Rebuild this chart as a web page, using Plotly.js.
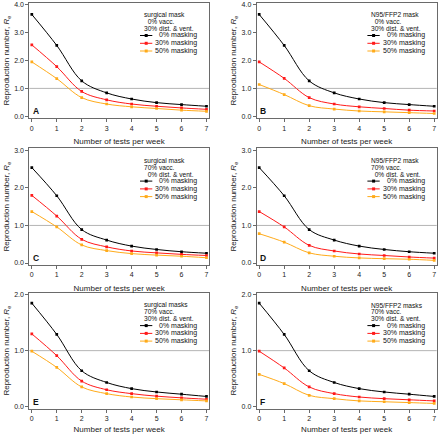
<!DOCTYPE html>
<html><head><meta charset="utf-8">
<script src="https://cdn.plot.ly/plotly-3.0.1.min.js"></script>
<style>html,body{margin:0;padding:0;background:#fff}#chart{width:440px;height:434px}</style>
</head><body><div id="chart"></div>
<script>
// ---- data ----
const tests = [0, 1, 2, 3, 4, 5, 6, 7];
const seriesNames = ['0% masking', '30% masking', '50% masking'];
const panelLetters = ['A', 'B', 'C', 'D', 'E', 'F'];
const panelHeaders = [
  ['surgical mask', '\u00a0\u00a00% vacc.', '30% dist. & vent.'],
  ['N95/FFP2 mask', '\u00a0\u00a00% vacc.', '30% dist. & vent.'],
  ['surgical mask', '70% vacc.', '\u00a0\u00a00% dist. & vent.'],
  ['N95/FFP2 mask', '70% vacc.', '\u00a0\u00a00% dist. & vent.'],
  ['surgical masks', '70% vacc.', '30% dist. & vent.'],
  ['N95/FFP2 masks', '70% vacc.', '30% dist. & vent.']
];
const yMaxByRow = [4, 3, 2];
const threshold = 1.0;

const A_mask0  = [3.65, 2.54, 1.27, 0.84, 0.62, 0.49, 0.42, 0.36];
const A_mask30 = [2.56, 1.78, 0.89, 0.59, 0.44, 0.36, 0.30, 0.25];
const A_mask50 = [1.95, 1.35, 0.67, 0.44, 0.34, 0.28, 0.22, 0.18];
const B_mask0  = [3.65, 2.54, 1.27, 0.84, 0.62, 0.49, 0.42, 0.36];
const B_mask30 = [1.95, 1.36, 0.67, 0.44, 0.34, 0.28, 0.22, 0.19];
const B_mask50 = [1.14, 0.78, 0.38, 0.26, 0.19, 0.16, 0.13, 0.10];
const C_mask0  = [2.54, 1.79, 0.89, 0.61, 0.45, 0.36, 0.30, 0.26];
const C_mask30 = [1.80, 1.25, 0.63, 0.43, 0.32, 0.27, 0.23, 0.20];
const C_mask50 = [1.37, 0.96, 0.48, 0.33, 0.25, 0.21, 0.18, 0.14];
const D_mask0  = [2.54, 1.79, 0.89, 0.61, 0.45, 0.36, 0.30, 0.26];
const D_mask30 = [1.37, 0.96, 0.47, 0.32, 0.24, 0.20, 0.16, 0.13];
const D_mask50 = [0.78, 0.555, 0.27, 0.18, 0.135, 0.115, 0.10, 0.07];
const E_mask0  = [1.85, 1.29, 0.64, 0.43, 0.32, 0.26, 0.22, 0.18];
const E_mask30 = [1.30, 0.91, 0.455, 0.30, 0.23, 0.185, 0.155, 0.13];
const E_mask50 = [0.99, 0.70, 0.35, 0.23, 0.17, 0.14, 0.12, 0.10];
const F_mask0  = [1.85, 1.29, 0.64, 0.43, 0.32, 0.26, 0.22, 0.18];
const F_mask30 = [0.99, 0.69, 0.35, 0.23, 0.17, 0.14, 0.12, 0.10];
const F_mask50 = [0.575, 0.41, 0.20, 0.14, 0.10, 0.085, 0.07, 0.055];

const panelSeries = [
  [A_mask0, A_mask30, A_mask50],
  [B_mask0, B_mask30, B_mask50],
  [C_mask0, C_mask30, C_mask50],
  [D_mask0, D_mask30, D_mask50],
  [E_mask0, E_mask30, E_mask50],
  [F_mask0, F_mask30, F_mask50]
];

// ---- styling / layout ----
const colors = ['#000000', '#ff1a1a', '#ffab1a'];
const W = 440, H = 434;
const colLeft = [29.3, 256.7], colRight = [209, 436.7];
const rowTop = [2.7, 148.3, 292.8], rowBottom = [118.3, 265, 408.5];
const FONT = 'Liberation Sans, Arial, Helvetica, sans-serif';
const frameColor = '#6a6a6a';

const traces = [];
const layout = {
  width: W, height: H,
  margin: {l: 0, r: 0, t: 0, b: 0},
  paper_bgcolor: '#fff', plot_bgcolor: '#fff',
  showlegend: false,
  font: {family: FONT, size: 7, color: '#222'},
  annotations: [], shapes: []
};

for (let p = 0; p < 6; p++) {
  const row = Math.floor(p / 2), col = p % 2;
  const k = p + 1;
  const xa = k === 1 ? 'x' : 'x' + k;
  const ya = k === 1 ? 'y' : 'y' + k;
  const xName = k === 1 ? 'xaxis' : 'xaxis' + k;
  const yName = k === 1 ? 'yaxis' : 'yaxis' + k;
  const fw = colRight[col] - colLeft[col];
  const fh = rowBottom[row] - rowTop[row];
  const ymax = yMaxByRow[row];
  const ypad = 2 / (fh - 4);
  const xpad = 2.5 / (fw - 5);

  layout[xName] = {
    domain: [colLeft[col] / W, colRight[col] / W],
    anchor: ya,
    range: [-7 * xpad, 7 * (1 + xpad)],
    tickvals: tests,
    ticks: 'outside', ticklen: 3, tickwidth: 1, tickcolor: frameColor,
    showline: true, linecolor: frameColor, linewidth: 1, mirror: true,
    showgrid: false, zeroline: false,
    tickfont: {size: 7, color: '#222', family: FONT},
    title: {text: 'Number of tests per week', font: {size: 8, color: '#222', family: FONT}, standoff: 7}
  };
  const yt = [];
  for (let v = 0; v <= ymax; v++) yt.push(v);
  layout[yName] = {
    domain: [1 - rowBottom[row] / H, 1 - rowTop[row] / H],
    anchor: xa,
    range: [-ymax * ypad, ymax * (1 + ypad)],
    tickvals: yt, tickformat: '.1f',
    ticks: 'outside', ticklen: 3, tickwidth: 1, tickcolor: frameColor,
    showline: true, linecolor: frameColor, linewidth: 1, mirror: true,
    showgrid: false, zeroline: false,
    tickfont: {size: 7, color: '#222', family: FONT},
    title: {text: 'Reproduction number, <i>R</i><sub>e</sub>', font: {size: 8, color: '#222', family: FONT}, standoff: 3}
  };

  // threshold line
  layout.shapes.push({
    type: 'line', layer: 'below', xref: xa + ' domain', x0: 0, x1: 1,
    yref: ya, y0: threshold, y1: threshold,
    line: {color: '#b4b4b4', width: 1}
  });

  // curves
  for (let s = 0; s < 3; s++) {
    traces.push({
      x: tests, y: panelSeries[p][s], xaxis: xa, yaxis: ya,
      type: 'scatter', mode: 'lines+markers', name: seriesNames[s],
      line: {color: colors[s], width: 1, shape: 'spline', smoothing: 1},
      marker: {color: colors[s], size: 2.7, symbol: 'square'},
      showlegend: false, hoverinfo: 'skip'
    });
  }

  const xd = xa + ' domain', yd = ya + ' domain';
  // panel letter
  layout.annotations.push({
    xref: xd, yref: yd, x: 6.2 / fw, y: 7 / fh, xanchor: 'center', yanchor: 'middle',
    text: '<b>' + panelLetters[p] + '</b>', showarrow: false,
    font: {size: 8.5, color: '#111', family: FONT}
  });
  // header text
  const headerY = [12.3, 19.0, 25.7];
  for (let i = 0; i < 3; i++) {
    layout.annotations.push({
      xref: xd, yref: yd, x: 112.6 / fw, y: 1 - headerY[i] / fh,
      xanchor: 'left', yanchor: 'middle', showarrow: false,
      text: panelHeaders[p][i], font: {size: 6.6, color: '#111', family: FONT}
    });
  }
  // legend entries
  const entryY = [32.8, 40.6, 48.3];
  for (let s = 0; s < 3; s++) {
    const yf = 1 - entryY[s] / fh;
    layout.annotations.push({
      xref: xd, yref: yd, x: 170 / fw, y: yf,
      xanchor: 'right', yanchor: 'middle', showarrow: false,
      text: seriesNames[s], font: {size: 7, color: '#111', family: FONT}
    });
    layout.shapes.push({
      type: 'line', xref: xd, yref: yd, x0: 110.7 / fw, x1: 123 / fw, y0: yf, y1: yf,
      line: {color: colors[s], width: 1}
    });
    layout.shapes.push({
      type: 'rect', xref: xd, yref: yd,
      x0: 115.4 / fw, x1: 118.4 / fw, y0: yf - 1.5 / fh, y1: yf + 1.5 / fh,
      line: {width: 0}, fillcolor: colors[s]
    });
  }
}

Plotly.newPlot('chart', traces, layout, {staticPlot: true, displayModeBar: false});
</script>
</body></html>
